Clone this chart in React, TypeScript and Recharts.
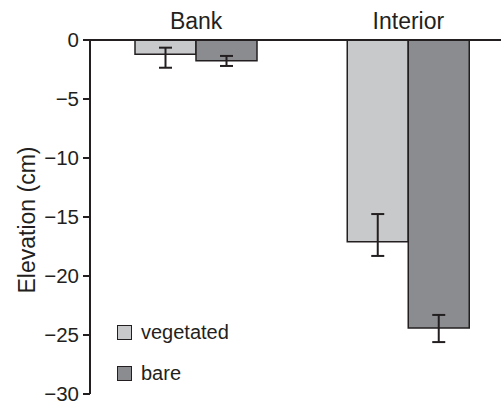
import React from "react";
import { BarChart, Bar, XAxis, YAxis, ErrorBar, Label } from "recharts";

const categories = ["Bank", "Interior"];
const vegetated = [-1.2, -17.1];
const vegetatedErr = [[1.15, 0.55], [1.2, 2.35]];
const bare = [-1.75, -24.4];
const bareErr = [[0.45, 0.4], [1.2, 1.1]];
const yTicks = [0, -5, -10, -15, -20, -25, -30];
const legendItems = ["vegetated", "bare"];
const yLabel = "Elevation (cm)";

const data = categories.map((c, i) => ({
  name: c,
  vegetated: vegetated[i],
  vegetatedErr: vegetatedErr[i],
  bare: bare[i],
  bareErr: bareErr[i],
}));

const INK = "#231f20";
const LIGHT = "#c8c9cb";
const DARK = "#8b8c8f";
const FONT = "'Liberation Sans', Arial, Helvetica, sans-serif";
const legendColors = [LIGHT, DARK];

const YLabelContent = (props: any) => {
  const vb = props.viewBox || {};
  const cx = 27;
  const cy = (vb.y ?? 40) + (vb.height ?? 354) / 2 + 3;
  return (
    <text
      x={cx}
      y={cy}
      transform={`rotate(-90, ${cx}, ${cy})`}
      textAnchor="middle"
      dominantBaseline="central"
      fill={INK}
      fontSize={23}
      fontFamily={FONT}
    >
      {yLabel}
    </text>
  );
};

export default function App() {
  return (
    <div
      style={{
        position: "fixed",
        left: 0,
        top: 0,
        width: 501,
        height: 401,
        overflow: "hidden",
        background: "#fff",
      }}
    >
      <BarChart
        width={520}
        height={401}
        data={data}
        margin={{ top: 0, right: 5.5, left: 0, bottom: 7 }}
        barGap={0}
        barSize={61}
      >
        <XAxis
          dataKey="name"
          orientation="top"
          height={40}
          axisLine={{ stroke: INK, strokeWidth: 2 }}
          tickLine={false}
          tickSize={4}
          tickMargin={7}
          tick={{ fill: INK, fontSize: 23, fontFamily: FONT }}
        />
        <YAxis
          width={90}
          domain={[-30, 0]}
          ticks={yTicks}
          interval={0}
          axisLine={{ stroke: INK, strokeWidth: 2 }}
          tickLine={{ stroke: INK, strokeWidth: 2 }}
          tickSize={7}
          tickMargin={4}
          tick={{ fill: INK, fontSize: 20.5, fontFamily: FONT }}
          tickFormatter={(v: number) => String(v).replace("-", "\u2212")}
        >
          <Label content={<YLabelContent />} />
        </YAxis>
        <Bar
          dataKey="vegetated"
          fill={LIGHT}
          stroke={INK}
          strokeWidth={1.5}
          isAnimationActive={false}
        >
          <ErrorBar dataKey="vegetatedErr" width={6.5} stroke={INK} strokeWidth={2} direction="y" />
        </Bar>
        <Bar
          dataKey="bare"
          fill={DARK}
          stroke={INK}
          strokeWidth={1.5}
          isAnimationActive={false}
        >
          <ErrorBar dataKey="bareErr" width={6.5} stroke={INK} strokeWidth={2} direction="y" />
        </Bar>
      </BarChart>
      <div
        style={{
          position: "absolute",
          left: 117,
          top: 312,
          fontFamily: FONT,
          fontSize: 20,
          color: INK,
        }}
      >
        {legendItems.map((label, i) => (
          <div key={label} style={{ display: "flex", alignItems: "center", height: 41 }}>
            <div
              style={{
                width: 13,
                height: 13,
                background: legendColors[i],
                border: `1.5px solid ${INK}`,
                marginRight: 9,
              }}
            />
            <span>{label}</span>
          </div>
        ))}
      </div>
    </div>
  );
}
